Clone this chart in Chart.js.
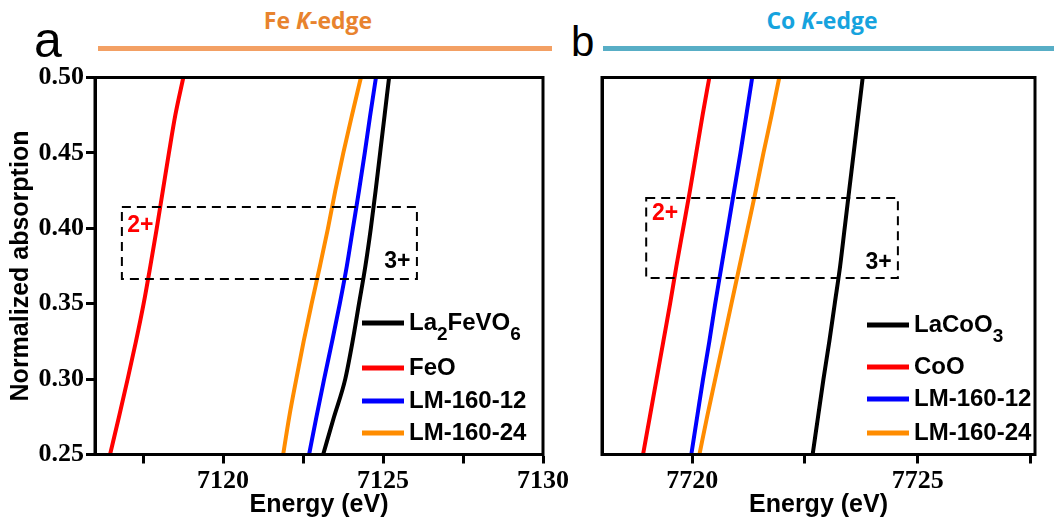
<!DOCTYPE html>
<html>
<head>
<meta charset="utf-8">
<script src="https://cdn.jsdelivr.net/npm/chart.js@4/dist/chart.umd.min.js"></script>
<style>
  body { margin: 0; background: #fff; width: 1054px; height: 521px; overflow: hidden; position: relative; font-family: Arial, "Liberation Sans", sans-serif; }
  .panel { position: absolute; top: 0; height: 521px; }
  #wrapA { left: 0; width: 590px; }
  #wrapB { left: 560px; width: 494px; }
  .letter { position: absolute; color: #000; line-height: 1; }
  .head { position: absolute; font-family: "Open Sans", sans-serif; font-weight: 700; font-size: 23px; line-height: 1; transform: translateX(-50%); white-space: nowrap; }
  .bar { position: absolute; height: 5px; }
</style>
</head>
<body>
<div class="letter" style="left:34px;top:15px;font-size:50px;">a</div>
<div class="letter" style="left:571px;top:21px;font-size:42px;">b</div>
<div class="head" style="left:318px;top:9px;color:#e8832e;">Fe <i>K</i>-edge</div>
<div class="head" style="left:822px;top:9px;color:#16a3de;">Co <i>K</i>-edge</div>
<div class="bar" style="left:98px;top:46px;width:454px;background:#f3a064;"></div>
<div class="bar" style="left:603px;top:46px;width:451px;background:#58aec6;"></div>

<div class="panel" id="wrapA"><canvas id="chartA" width="590" height="521"></canvas></div>
<div class="panel" id="wrapB"><canvas id="chartB" width="494" height="521"></canvas></div>

<script>
// absorption levels shared by all curves
const absorption = [0.25, 0.275, 0.30, 0.325, 0.35, 0.375, 0.40, 0.425, 0.45, 0.475, 0.50];

// Fe K-edge: energy (eV) reached at each absorption level
const feLa2FeVO6 = [7123.13, 7123.47, 7123.82, 7124.05, 7124.25, 7124.45, 7124.62, 7124.77, 7124.91, 7125.05, 7125.19];
const feFeO      = [7116.47, 7116.75, 7117.02, 7117.28, 7117.52, 7117.73, 7117.93, 7118.12, 7118.31, 7118.51, 7118.76];
const feLM12     = [7122.69, 7122.92, 7123.16, 7123.41, 7123.65, 7123.87, 7124.06, 7124.25, 7124.43, 7124.60, 7124.78];
const feLM24     = [7121.88, 7122.07, 7122.29, 7122.52, 7122.77, 7123.03, 7123.28, 7123.51, 7123.76, 7124.03, 7124.31];

// Co K-edge
const coLaCoO3 = [7722.67, 7722.79, 7722.91, 7723.04, 7723.16, 7723.28, 7723.38, 7723.48, 7723.58, 7723.68, 7723.78];
const coCoO    = [7718.91, 7719.06, 7719.21, 7719.36, 7719.51, 7719.65, 7719.80, 7719.95, 7720.09, 7720.23, 7720.38];
const coLM12   = [7719.98, 7720.11, 7720.24, 7720.38, 7720.51, 7720.65, 7720.79, 7720.93, 7721.07, 7721.20, 7721.33];
const coLM24   = [7720.16, 7720.33, 7720.51, 7720.69, 7720.87, 7721.05, 7721.23, 7721.41, 7721.58, 7721.76, 7721.93];

// {n} = subscript
const feLabels = ['La{2}FeVO{6}', 'FeO', 'LM-160-12', 'LM-160-24'];
const coLabels = ['LaCoO{3}', 'CoO', 'LM-160-12', 'LM-160-24'];
const seriesColors = ['#000000', '#ff0000', '#0000ff', '#ff8c00'];

const yTicks = [0.25, 0.30, 0.35, 0.40, 0.45, 0.50];
const feXTicks = [7117.5, 7120, 7122.5, 7125, 7127.5, 7130];
const coXTicks = [7720, 7722.5, 7725, 7727.5];

// dashed box: [xMin, xMax, yMin, yMax] in data units, and oxidation state labels
const feBox = [7116.84, 7126.06, 0.3664, 0.4141];
const coBox = [7718.98, 7724.56, 0.367, 0.4201];
const feCharges = [{ text: '2+', x: 7117.42, y: 0.402, color: '#ff0000' }, { text: '3+', x: 7125.45, y: 0.378, color: '#000' }];
const coCharges = [{ text: '2+', x: 7719.40, y: 0.4095, color: '#ff0000' }, { text: '3+', x: 7724.13, y: 0.377, color: '#000' }];

function drawRich(ctx, text, x, y) {
    const parts = text.split(/(\{\d+\})/).filter(Boolean);
    for (const p of parts) {
        const sub = p.startsWith('{');
        const t = sub ? p.slice(1, -1) : p;
        ctx.font = sub ? 'bold 19px Arial, "Liberation Sans"' : 'bold 24px Arial, "Liberation Sans"';
        ctx.fillText(t, x, sub ? y + 12 : y);
        x += ctx.measureText(t).width;
    }
}

const extrasPlugin = {
    id: 'extras',
    afterDatasetsDraw(chart, args, opts) {
        const { ctx, chartArea: a, scales: { x, y } } = chart;
        ctx.save();
        // dashed box
        const b = opts.box;
        ctx.setLineDash([9, 6]);
        ctx.lineWidth = 2;
        ctx.strokeStyle = '#000';
        const bx = x.getPixelForValue(b[0]), bx2 = x.getPixelForValue(b[1]);
        const by = y.getPixelForValue(b[3]), by2 = y.getPixelForValue(b[2]);
        ctx.strokeRect(bx, by, bx2 - bx, by2 - by);
        ctx.setLineDash([]);
        // charges
        ctx.textAlign = 'center';
        ctx.textBaseline = 'middle';
        ctx.font = 'bold 23px Arial, "Liberation Sans"';
        for (const c of opts.charges) {
            ctx.fillStyle = c.color;
            ctx.fillText(c.text, x.getPixelForValue(c.x), y.getPixelForValue(c.y));
        }
        // legend
        ctx.textAlign = 'left';
        chart.data.datasets.forEach((ds, i) => {
            const ly = a.top + opts.legendRows[i];
            const lx = a.left + opts.legendX;
            ctx.strokeStyle = ds.borderColor;
            ctx.lineWidth = 5;
            ctx.beginPath();
            ctx.moveTo(lx, ly);
            ctx.lineTo(lx + 42, ly);
            ctx.stroke();
            ctx.fillStyle = '#000';
            drawRich(ctx, ds.label, lx + 47, ly);
        });
        // frame
        ctx.lineWidth = 3;
        ctx.strokeStyle = '#000';
        ctx.strokeRect(a.left, a.top, a.right - a.left, a.bottom - a.top);
        ctx.restore();
    }
};

function makeChart(id, cfg) {
    return new Chart(document.getElementById(id), {
        type: 'line',
        data: {
            datasets: cfg.series.map((s, i) => ({
                label: cfg.labels[i],
                data: s.map((e, j) => ({ x: e, y: absorption[j] })),
                borderColor: seriesColors[i],
                borderWidth: 4,
                pointRadius: 0,
                cubicInterpolationMode: 'monotone',
                fill: false
            }))
        },
        options: {
            responsive: false,
            animation: false,
            layout: { padding: { top: 77.5, right: cfg.padRight, left: 0, bottom: 0 } },
            plugins: {
                legend: { display: false },
                tooltip: { enabled: false },
                extras: { box: cfg.box, charges: cfg.charges, legendX: cfg.legendX, legendRows: cfg.legendRows }
            },
            scales: {
                x: {
                    type: 'linear',
                    min: cfg.xMin,
                    max: cfg.xMax,
                    afterBuildTicks: s => { s.ticks = cfg.xTicks.map(v => ({ value: v })); },
                    afterFit: s => { s.height = 66.5; s.paddingLeft = 0; s.paddingRight = 0; },
                    ticks: {
                        autoSkip: false,
                        maxRotation: 0,
                        padding: 2,
                        color: '#000',
                        font: { family: '"Liberation Serif", "Times New Roman"', weight: 'bold', size: 26 },
                        callback: v => (v % 5 === 0 ? v : '')
                    },
                    grid: { drawOnChartArea: false, drawTicks: true, tickLength: 9, tickWidth: 3, tickColor: '#000' },
                    border: { color: '#000', width: 3 },
                    title: {
                        display: true, text: 'Energy (eV)', color: '#000',
                        font: { family: 'Arial, "Liberation Sans"', weight: 'bold', size: 25 },
                        padding: { top: 0, bottom: 1 }
                    }
                },
                y: {
                    min: 0.25,
                    max: 0.50,
                    afterBuildTicks: s => { s.ticks = yTicks.map(v => ({ value: v })); },
                    afterFit: s => { s.width = cfg.yWidth; s.paddingTop = 0; s.paddingBottom = 0; },
                    ticks: {
                        display: cfg.yLabels,
                        padding: 2,
                        color: '#000',
                        font: { family: '"Liberation Serif", "Times New Roman"', weight: 'bold', size: 26 },
                        callback: v => v.toFixed(2)
                    },
                    grid: { drawOnChartArea: false, drawTicks: cfg.yLabels, tickLength: 9, tickWidth: 3, tickColor: '#000' },
                    border: { color: '#000', width: 3 },
                    title: {
                        display: cfg.yLabels, text: 'Normalized absorption', color: '#000',
                        font: { family: 'Arial, "Liberation Sans"', weight: 'bold', size: 25 },
                        padding: { top: 6, bottom: 0 }
                    }
                }
            }
        },
        plugins: [extrasPlugin]
    });
}

makeChart('chartA', {
    series: [feLa2FeVO6, feFeO, feLM12, feLM24],
    labels: feLabels,
    xMin: 7116, xMax: 7130, xTicks: feXTicks,
    yWidth: 95, yLabels: true, padRight: 47,
    box: feBox, charges: feCharges,
    legendX: 267, legendRows: [245.5, 290.5, 323.5, 355.5]
});

makeChart('chartB', {
    series: [coLaCoO3, coCoO, coLM12, coLM24],
    labels: coLabels,
    xMin: 7718, xMax: 7727.6, xTicks: coXTicks,
    yWidth: 42, yLabels: false, padRight: 19,
    box: coBox, charges: coCharges,
    legendX: 265, legendRows: [247.5, 289.5, 321.5, 355.5]
});
</script>
</body>
</html>
